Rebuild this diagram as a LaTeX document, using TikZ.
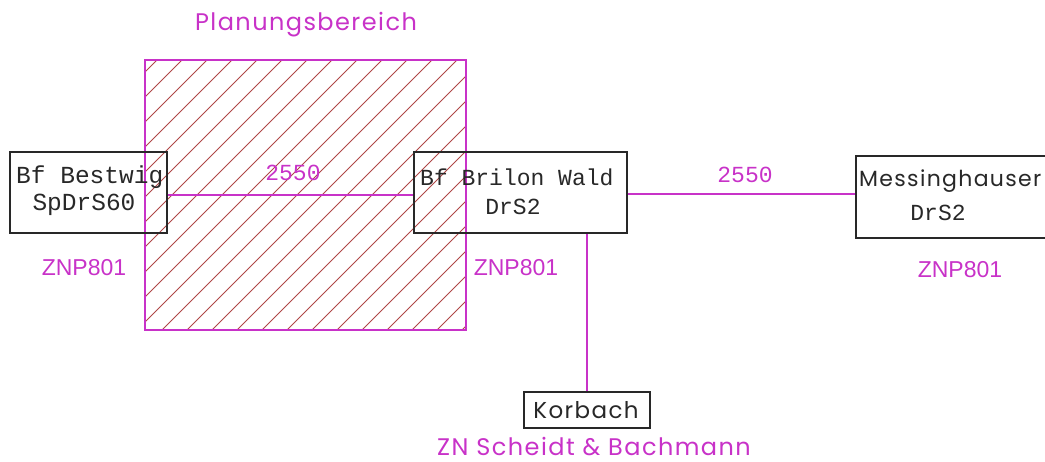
\documentclass[tikz,border=0pt]{standalone}
\usepackage{fontspec}
\setmainfont{Liberation Sans}
\newfontfamily\cadmono{Liberation Mono}
\newfontfamily\cadround{Poppins}[LetterSpace=6]
\definecolor{cadmag}{RGB}{200,50,200}
\definecolor{cadhatch}{RGB}{175,70,70}
\definecolor{cadbox}{RGB}{40,40,40}
\tikzset{
  stationbox/.style={draw=cadbox, line width=1.3pt, rectangle, inner sep=0pt},
  link/.style={draw=cadmag, line width=2pt},
  boxtext/.style={text=cadbox, font=\cadmono\fontsize{23}{23}\selectfont, inner sep=0pt},
  roundtext/.style={inner sep=0pt, font=\cadround\fontsize{23}{23}\selectfont},
  bigroundtext/.style={inner sep=0pt, font=\cadround\fontsize{24}{24}\selectfont},
  magtext/.style={text=cadmag, inner sep=0pt, font=\fontsize{23}{23}\selectfont},
}
\begin{document}
\begin{tikzpicture}[x=1pt, y=-1pt]
\useasboundingbox (0,0) rectangle (1045,461);
\clip (0,0) rectangle (1045,461);

% planning area with hatching
\node[bigroundtext, text=cadmag] (plantitle) at (306,25) {Planungsbereich};
\begin{scope}
  \clip (145,60) rectangle (466,330);
  \foreach \k in {-1,...,23} {
    \draw[cadhatch, line width=1pt] ({157+25*\k-270},330) -- ({157+25*\k},60);
  }
\end{scope}
\node[draw=cadmag, line width=1.4pt, rectangle, inner sep=0pt,
      minimum width=321pt, minimum height=270pt] (area) at (305.5,195) {};

% stations
\node[stationbox, minimum width=157pt, minimum height=81pt] (bestwig) at (88.5,192.5) {};
\node[boxtext, anchor=west, font=\cadmono\fontsize{24.5}{24.5}\selectfont] (bestwigA) at (16,177) {Bf Bestwig};
\node[boxtext, font=\cadmono\fontsize{24.5}{24.5}\selectfont] (bestwigB) at (84,204.5) {SpDrS60};

\node[stationbox, minimum width=213pt, minimum height=81pt] (brilon) at (520.5,192.5) {};
\node[boxtext, anchor=west] (brilonA) at (420,177) {Bf Brilon Wald};
\node[boxtext] (brilonB) at (513,207) {DrS2};

\node[stationbox, minimum width=200pt, minimum height=82pt] (messing) at (956,197) {};
\node[roundtext, text=cadbox, anchor=west, font=\cadround\fontsize{22}{22}\selectfont] (messingA) at (859,181) {Messinghauser};
\node[boxtext] (messingB) at (938,213) {DrS2};

\node[stationbox, minimum width=126pt, minimum height=36pt] (korbach) at (587,410) {};
\node[roundtext, text=cadbox] (korbachA) at (586,410) {Korbach};

% connections
\draw[link] ([yshift=-2pt]bestwig.east) -- ([yshift=-2pt]brilon.west);
\draw[link] ([yshift=-1pt]brilon.east) -- ([yshift=-1pt]messing.west |- brilon.east);
\draw[link] (korbach.north) -- (korbach.north |- brilon.south);

% distances and labels
\node[boxtext, text=cadmag] (d1) at (293,173) {2550};
\node[boxtext, text=cadmag] (d2) at (745,175) {2550};
\node[magtext] (z1) at (84,268) {ZNP801};
\node[magtext] (z2) at (516,268) {ZNP801};
\node[magtext] (z3) at (960,270) {ZNP801};
\node[bigroundtext, text=cadmag] (zn) at (594,447) {ZN Scheidt \& Bachmann};
\end{tikzpicture}
\end{document}
